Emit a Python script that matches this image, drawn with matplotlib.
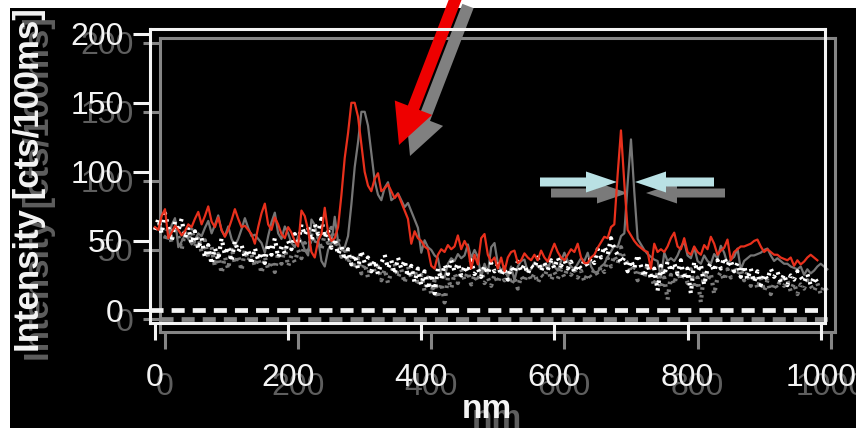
import numpy as np
import matplotlib
matplotlib.use("Agg")
import matplotlib.pyplot as plt
from matplotlib.patches import FancyArrow

plt.rcParams['font.family'] = ['Liberation Sans', 'DejaVu Sans']
plt.rcParams['lines.scale_dashes'] = False

W, H, DPI = 856, 428, 100

# ---- spectra (counts per 100 ms), sampled every 5 nm ----
red_counts = [
    60, 58, 68, 73, 52, 56, 61, 58, 54, 57, 62, 60, 66, 71, 62, 68, 75, 64, 60, 67,
    58, 53, 58, 65, 73, 66, 60, 61, 58, 55, 48, 60, 70, 77, 62, 58, 67, 62, 55, 52,
    60, 56, 50, 46, 72, 68, 58, 42, 38, 50, 55, 74, 56, 50, 52, 60, 83, 110, 128, 150,
    150, 140, 120, 100, 90, 86, 95, 99, 86, 88, 91, 86, 81, 84, 78, 72, 66, 48, 57, 52,
    50, 46, 44, 32, 30, 40, 44, 42, 47, 44, 46, 54, 44, 50, 45, 30, 40, 33, 52, 55,
    40, 35, 38, 30, 38, 28, 38, 42, 43, 34, 36, 41, 38, 36, 40, 36, 43, 38, 35, 42,
    48, 42, 38, 36, 40, 44, 42, 48, 38, 34, 34, 38, 40, 45, 49, 53, 52, 60, 62, 98,
    130, 92, 58, 54, 50, 47, 45, 43, 42, 30, 48, 42, 44, 42, 46, 52, 56, 46, 44, 52,
    42, 40, 46, 42, 40, 47, 44, 53, 48, 40, 43, 45, 51, 36, 42, 44, 46, 46, 47, 48,
    50, 51, 46, 42, 44, 42, 40, 40, 38, 37, 36, 38, 32, 36, 33, 35, 38, 40, 38, 36,
]
dotted_counts = [
    58, 66, 55, 70, 60, 50, 64, 57, 66, 52, 60, 48, 57, 44, 52, 38, 47, 33, 45, 36,
    52, 40, 46, 35, 50, 42, 47, 38, 44, 33, 45, 36, 42, 34, 48, 40, 52, 38, 46, 41,
    50, 44, 55, 47, 62, 54, 60, 50, 62, 55, 66, 52, 58, 45, 52, 40, 46, 36, 44, 33,
    40, 30, 43, 34, 38, 28, 36, 26, 34, 40, 30, 36, 26, 38, 30, 36, 24, 32, 20, 30,
    18, 28, 15, 26, 12, 30, 22, 33, 26, 36, 28, 34, 25, 32, 27, 36, 26, 30, 24, 32,
    26, 34, 28, 33, 25, 30, 22, 31, 27, 35, 28, 33, 26, 32, 30, 38, 28, 34, 29, 36,
    30, 38, 32, 36, 30, 35, 27, 33, 30, 36, 32, 38, 34, 44, 38, 46, 40, 52, 44, 40,
    34, 38, 28, 36, 30, 40, 32, 24, 34, 22, 30, 14, 32, 25, 35, 28, 34, 26, 36, 22,
    30, 12, 35, 28, 33, 18, 30, 34, 28, 36, 30, 38, 32, 36, 28, 34, 24, 32, 22, 30,
    20, 28, 18, 26, 22, 30, 24, 28, 20, 26, 18, 25, 22, 28, 24, 20, 26, 18, 24, 20,
    22,
]
red_nm = np.arange(len(red_counts)) * 5
dotted_nm = np.arange(len(dotted_counts)) * 5

x_ticks = [0, 200, 400, 600, 800, 1000]
y_ticks = [0, 50, 100, 150, 200]
x_label = "nm"
y_label = "Intensity [cts/100ms]"

fig = plt.figure(figsize=(W / DPI, H / DPI), dpi=DPI, facecolor="white")

# black slide background
bg = fig.add_axes([10 / W, 0, (W - 10) / W, (H - 8) / H], zorder=-1)
bg.set_facecolor("black")
bg.set_xticks([]); bg.set_yticks([])
for s in bg.spines.values():
    s.set_visible(False)

AX_L, AX_T, AX_W, AX_H = 150, 29, 675, 294


def draw_layer(dx, dy, fg, txt, line_col, dot_col, z):
    ax = fig.add_axes([(AX_L + dx) / W, 1 - (AX_T + AX_H + dy) / H, AX_W / W, AX_H / H],
                      zorder=z)
    ax.set_facecolor("none")
    ax.set_xlim(-7.5, 1006.5)
    ax.set_ylim(-9.4, 203.4)
    ax.plot(dotted_nm, dotted_counts, color=dot_col, lw=3.0,
            ls=(0, (1.8, 3.8)), solid_capstyle="round")
    ax.plot(red_nm, red_counts, color=line_col, lw=1.6)
    ax.hlines(0, -7.5, 1000, colors=fg, lw=3.4, linestyles=(0, (9.4, 5.8)))
    for s in ax.spines.values():
        s.set_color(fg)
        s.set_linewidth(2.2)
    ax.set_xticks(x_ticks)
    ax.set_yticks(y_ticks)
    ax.tick_params(axis="both", direction="out", length=12.5, width=2.2,
                   color=fg, labelcolor=txt, labelsize=23)
    ax.tick_params(axis="x", pad=16)
    ax.tick_params(axis="y", pad=6.5)
    ax.text((30 + dx) / W, 1 - (180 + dy) / H, y_label, transform=fig.transFigure,
            rotation=90, ha="center", va="center", fontsize=25, fontweight="bold",
            color=txt)
    ax.text((487 + dx) / W, 1 - (410 + dy) / H, x_label, transform=fig.transFigure,
            ha="center", va="center", fontsize=24, fontweight="bold", color=txt)
    return ax


# faded duplicate behind, then the main plot
draw_layer(10, 9, "#858585", "#5e5e5e", "#767676", "#7c7c7c", 0)

# arrows in pixel coordinates
arr = fig.add_axes([0, 0, 1, 1], zorder=0.5)
arr.set_xlim(0, W)
arr.set_ylim(H, 0)
arr.axis("off")
arr.patch.set_visible(False)


def arrows(dx, dy, big_col, small_col):
    arr.add_patch(FancyArrow(457 + dx, -5 + dy, -58, 150, width=12, head_width=40,
                             head_length=40, length_includes_head=True,
                             color=big_col, lw=0))
    arr.add_patch(FancyArrow(540 + dx, 182 + dy, 77, 0, width=9, head_width=21,
                             head_length=31, length_includes_head=True,
                             color=small_col, lw=0))
    arr.add_patch(FancyArrow(714 + dx, 182 + dy, -79, 0, width=9, head_width=21,
                             head_length=31, length_includes_head=True,
                             color=small_col, lw=0))


arrows(11, 11, "#808080", "#7a7a7a")
arrows(0, 0, "#ee0000", "#b9e1e4")

draw_layer(0, 0, "#f4f4f4", "#f4f4f4", "#e8301c", "#ffffff", 1)

fig.savefig("out.png", dpi=DPI, facecolor="white")
